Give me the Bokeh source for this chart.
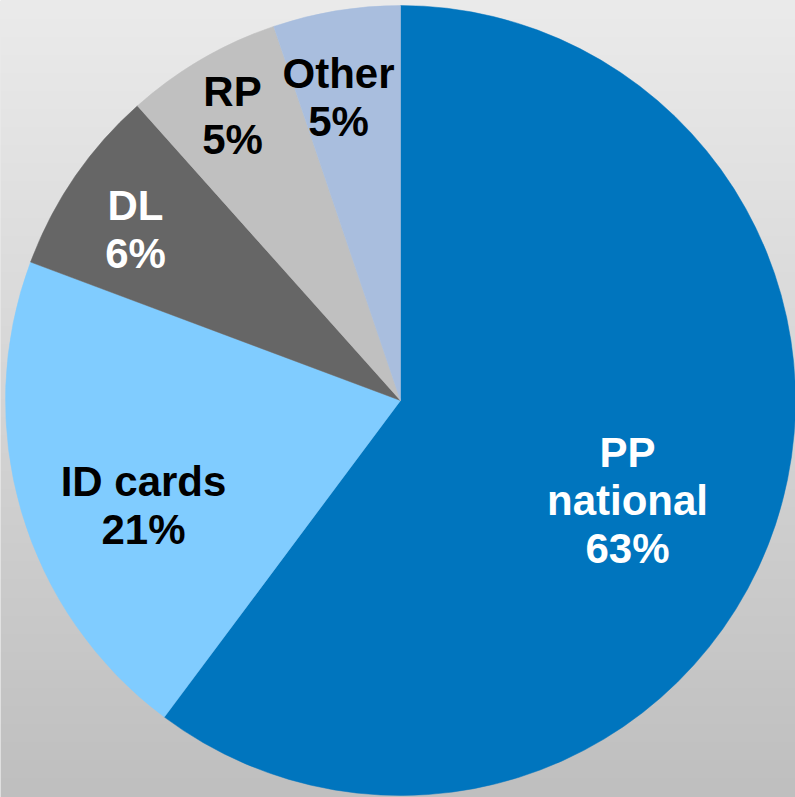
import numpy as np
from bokeh.plotting import figure
from bokeh.models import Range1d, ColumnDataSource
from bokeh.core.properties import value
from bokeh.embed import file_html
from bokeh.resources import INLINE

# ---- data (slice shares as drawn; labels as printed) ----
categories = ["PP national", "ID cards", "DL", "RP", "Other"]
shares = [60.2, 20.5, 7.7, 6.4, 5.2]
labels = ["PP\nnational\n63%", "ID cards\n21%", "DL\n6%", "RP\n5%", "Other\n5%"]
colors = ["#0075BE", "#80CCFF", "#666666", "#C0C0C0", "#A9BEDE"]
label_colors = ["white", "black", "white", "black", "black"]
# label anchor positions (pixels relative to pie centre, y up)
label_x = [227, -257, -265, -168, -62]
label_y = [-100, -105, 171, 285, 303]

W, H = 795, 797
R = 395

frac = np.array(shares) / sum(shares)
cum = np.concatenate([[0], np.cumsum(frac)])
start = np.pi / 2 - 2 * np.pi * cum[:-1]
end = np.pi / 2 - 2 * np.pi * cum[1:]

src = ColumnDataSource(dict(cat=categories, start=start, end=end, color=colors))
lab = ColumnDataSource(dict(x=label_x, y=label_y, text=labels, color=label_colors))

x0, x1 = -400, W - 400
y0, y1 = 400 - H, 400

p = figure(width=W, height=H, x_range=Range1d(x0, x1), y_range=Range1d(y0, y1),
           output_backend="svg", toolbar_location=None, min_border=0)
p.axis.visible = False
p.grid.visible = False
p.outline_line_color = None
p.background_fill_color = "#d5d5d5"
p.border_fill_color = "#d5d5d5"

# background vertical gradient (top light, bottom darker)
rows = H
t = np.linspace(0, 1, rows)  # 0 bottom -> 1 top
g = (191 + (235 - 191) * t).astype(np.uint32)
img = np.empty((rows, 2), dtype=np.uint32)
view = img.view(dtype=np.uint8).reshape((rows, 2, 4))
view[:, :, 0] = g[:, None]
view[:, :, 1] = g[:, None]
view[:, :, 2] = g[:, None]
view[:, :, 3] = 255
p.image_rgba(image=[img], x=x0, y=y0, dw=x1 - x0, dh=y1 - y0)

p.wedge(x=0, y=0, radius=R, start_angle="start", end_angle="end", direction="clock",
        fill_color="color", line_color="color", line_width=0.5, source=src)

p.text(x="x", y="y", text="text", source=lab, text_color="color",
       text_font=value("Liberation Sans"), text_font_style="bold",
       text_font_size="42px", text_align="center", text_baseline="middle",
       text_line_height=1.03)

open("out.html", "w").write(file_html(p, INLINE))
